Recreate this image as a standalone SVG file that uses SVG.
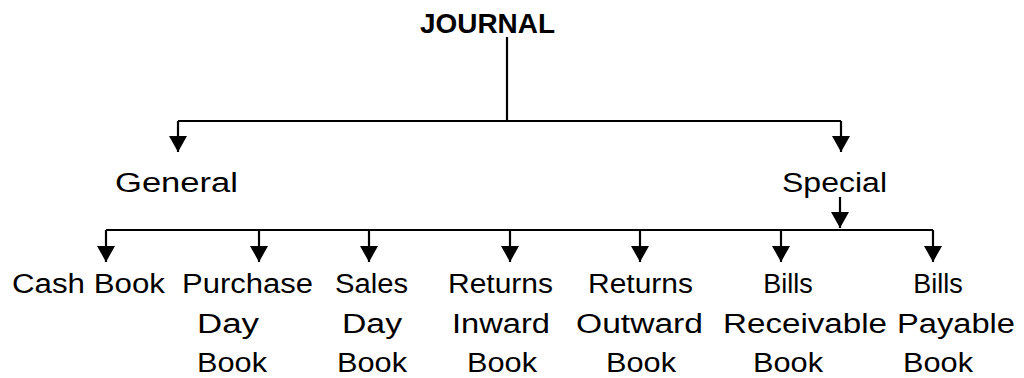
<svg xmlns="http://www.w3.org/2000/svg" width="1024" height="378" viewBox="0 0 1024 378">
<style>
text{font-family:"Liberation Sans","DejaVu Sans",sans-serif;font-size:27px;fill:#000}
.b{font-weight:bold;font-size:27px}
.ln{stroke:#000;stroke-width:2.2;fill:none}
</style>
<defs>
<marker id="ah" markerUnits="userSpaceOnUse" markerWidth="16" markerHeight="18" viewBox="0 0 16 18" refX="16" refY="9" orient="auto">
<path d="M0,0 L16,9 L0,18 Z" fill="#000" stroke="none"/>
</marker>
</defs>
<rect width="1024" height="378" fill="#fff"/>
<g id="connectors" class="ln">
<path d="M507,37 V121"/>
<path d="M178,121 H841"/>
<path d="M178,121 V152" marker-end="url(#ah)"/>
<path d="M841,121 V152" marker-end="url(#ah)"/>
<path d="M840,197 V228" marker-end="url(#ah)"/>
<path d="M106,230 H933"/>
<path d="M106,230 V262" marker-end="url(#ah)"/>
<path d="M259,230 V262" marker-end="url(#ah)"/>
<path d="M369,230 V262" marker-end="url(#ah)"/>
<path d="M510,230 V262" marker-end="url(#ah)"/>
<path d="M640,230 V262" marker-end="url(#ah)"/>
<path d="M781,230 V262" marker-end="url(#ah)"/>
<path d="M933,230 V262" marker-end="url(#ah)"/>
</g>
<g id="journal"><text class="b" x="420" y="33" textLength="135" lengthAdjust="spacingAndGlyphs">JOURNAL</text></g>
<g id="general"><text x="115" y="192" textLength="123" lengthAdjust="spacingAndGlyphs">General</text></g>
<g id="special"><text x="782" y="192" textLength="105" lengthAdjust="spacingAndGlyphs">Special</text></g>
<g id="cash-book"><text x="12" y="293" textLength="153" lengthAdjust="spacingAndGlyphs">Cash Book</text></g>
<g id="purchase-day-book">
<text x="182" y="293" textLength="131" lengthAdjust="spacingAndGlyphs">Purchase</text>
<text x="197" y="333" textLength="62" lengthAdjust="spacingAndGlyphs">Day</text>
<text x="197" y="372" textLength="70" lengthAdjust="spacingAndGlyphs">Book</text>
</g>
<g id="sales-day-book">
<text x="335" y="293" textLength="73" lengthAdjust="spacingAndGlyphs">Sales</text>
<text x="342" y="333" textLength="60" lengthAdjust="spacingAndGlyphs">Day</text>
<text x="337" y="372" textLength="70" lengthAdjust="spacingAndGlyphs">Book</text>
</g>
<g id="returns-inward-book">
<text x="448" y="293" textLength="105" lengthAdjust="spacingAndGlyphs">Returns</text>
<text x="452" y="333" textLength="98" lengthAdjust="spacingAndGlyphs">Inward</text>
<text x="467" y="372" textLength="70" lengthAdjust="spacingAndGlyphs">Book</text>
</g>
<g id="returns-outward-book">
<text x="588" y="293" textLength="105" lengthAdjust="spacingAndGlyphs">Returns</text>
<text x="576" y="333" textLength="127" lengthAdjust="spacingAndGlyphs">Outward</text>
<text x="606" y="372" textLength="70" lengthAdjust="spacingAndGlyphs">Book</text>
</g>
<g id="bills-receivable-book">
<text x="788" y="293" text-anchor="middle">Bills</text>
<text x="723" y="333" textLength="164" lengthAdjust="spacingAndGlyphs">Receivable</text>
<text x="753" y="372" textLength="70" lengthAdjust="spacingAndGlyphs">Book</text>
</g>
<g id="bills-payable-book">
<text x="938" y="293" text-anchor="middle">Bills</text>
<text x="897" y="333" textLength="118" lengthAdjust="spacingAndGlyphs">Payable</text>
<text x="903" y="372" textLength="70" lengthAdjust="spacingAndGlyphs">Book</text>
</g>
</svg>
